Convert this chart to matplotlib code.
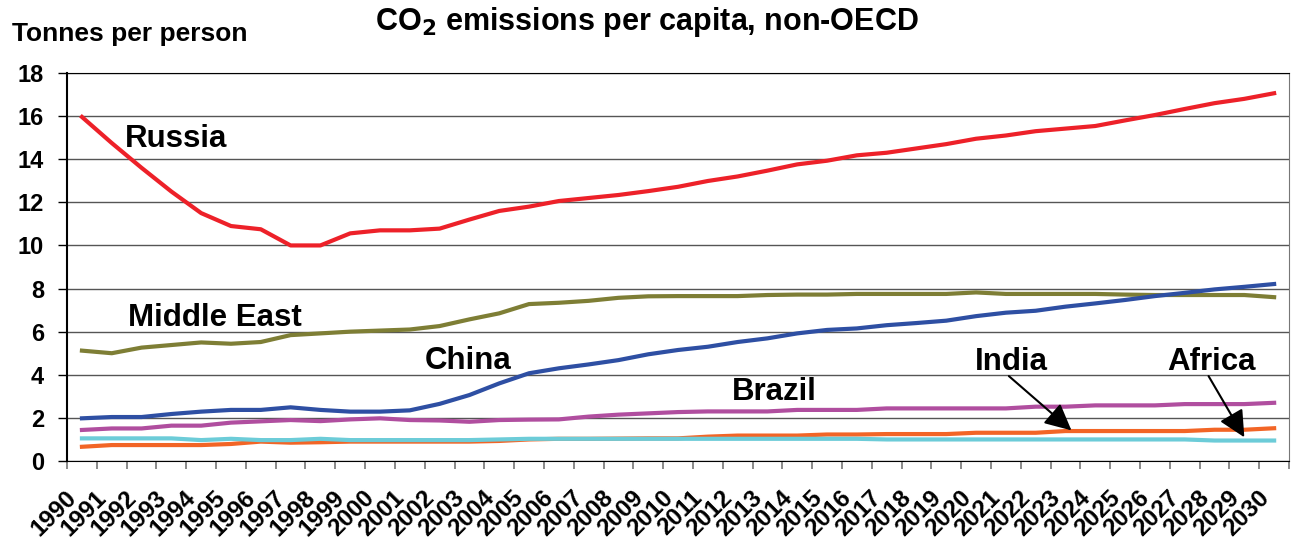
import numpy as np
import matplotlib
matplotlib.use("Agg")
import matplotlib.pyplot as plt
import matplotlib.transforms as mtransforms

plt.rcParams['font.family'] = ['Liberation Sans', 'DejaVu Sans']
plt.rcParams['font.weight'] = 'bold'

years = [str(y) for y in range(1990, 2031)]

russia = [15.96, 14.75, 13.6, 12.5, 11.5, 10.9, 10.75, 10.0, 10.0, 10.56,
          10.7, 10.7, 10.78, 11.2, 11.6, 11.8, 12.06, 12.2, 12.34, 12.52,
          12.72, 12.99, 13.2, 13.47, 13.76, 13.93, 14.18, 14.3, 14.5, 14.7,
          14.95, 15.1, 15.3, 15.42, 15.54, 15.8, 16.05, 16.33, 16.6, 16.8, 17.06]
middle_east = [5.12, 5.0, 5.26, 5.38, 5.5, 5.44, 5.52, 5.84, 5.92, 6.0,
               6.05, 6.1, 6.26, 6.57, 6.85, 7.28, 7.34, 7.43, 7.57, 7.64,
               7.65, 7.65, 7.65, 7.7, 7.72, 7.72, 7.75, 7.75, 7.75, 7.75,
               7.82, 7.75, 7.75, 7.75, 7.75, 7.72, 7.7, 7.7, 7.7, 7.7, 7.6]
china = [1.98, 2.04, 2.04, 2.18, 2.29, 2.37, 2.37, 2.49, 2.37, 2.29,
         2.29, 2.35, 2.65, 3.06, 3.6, 4.07, 4.3, 4.48, 4.68, 4.95,
         5.15, 5.3, 5.52, 5.69, 5.92, 6.08, 6.15, 6.3, 6.4, 6.51,
         6.72, 6.88, 6.97, 7.16, 7.31, 7.47, 7.65, 7.8, 7.96, 8.08, 8.21]
brazil = [1.44, 1.51, 1.51, 1.64, 1.64, 1.78, 1.84, 1.9, 1.85, 1.93,
          1.98, 1.9, 1.88, 1.82, 1.9, 1.92, 1.93, 2.06, 2.15, 2.21,
          2.27, 2.3, 2.3, 2.3, 2.37, 2.37, 2.37, 2.44, 2.44, 2.44,
          2.44, 2.44, 2.52, 2.52, 2.58, 2.58, 2.58, 2.64, 2.64, 2.64, 2.7]
india = [0.66, 0.74, 0.74, 0.74, 0.74, 0.79, 0.9, 0.85, 0.87, 0.9,
         0.9, 0.9, 0.9, 0.9, 0.93, 1.0, 1.03, 1.03, 1.04, 1.05,
         1.05, 1.13, 1.18, 1.18, 1.18, 1.23, 1.23, 1.25, 1.25, 1.25,
         1.31, 1.31, 1.31, 1.39, 1.39, 1.39, 1.39, 1.39, 1.45, 1.45, 1.52]
africa = [1.05, 1.05, 1.05, 1.05, 0.97, 1.03, 0.97, 0.97, 1.03, 0.97,
          0.97, 0.97, 0.97, 0.97, 1.0, 1.03, 1.03, 1.03, 1.03, 1.03,
          1.03, 1.03, 1.03, 1.03, 1.03, 1.03, 1.03, 1.0, 1.0, 1.0,
          1.0, 1.0, 1.0, 1.0, 1.0, 1.0, 1.0, 1.0, 0.95, 0.95, 0.95]

x = np.arange(len(years))

fig = plt.figure(figsize=(12.92, 5.39), dpi=100)
ax = fig.add_axes([0.0519, 0.1447, 0.9458, 0.7199])

ax.plot(x, russia, color='#ED2129', lw=3)
ax.plot(x, middle_east, color='#7E7E35', lw=3)
ax.plot(x, china, color='#2E4FA3', lw=3)
ax.plot(x, brazil, color='#B04E9F', lw=3)
ax.plot(x, india, color='#F26526', lw=3)
ax.plot(x, africa, color='#6CCCD8', lw=3)

ax.set_xlim(-0.5, len(years) - 0.5)
ax.set_ylim(0, 18)
ax.set_yticks(range(0, 19, 2))
ax.yaxis.grid(True, color='#555555', lw=1)
ax.set_axisbelow(True)
ax.tick_params(axis='y', labelsize=17, length=6.5, width=1, direction='out', pad=10)

ax.set_xticks(x)
ax.set_xticklabels(years, rotation=45, ha='right', va='top', rotation_mode='anchor', fontsize=17.5)
ax.set_xticks(np.arange(-0.5, len(years), 1), minor=True)
ax.tick_params(axis='x', which='major', length=0, pad=18)
ax.tick_params(axis='x', which='minor', length=6, width=1.2, color='#777777')
shift = mtransforms.ScaledTranslation(-17 / 100, 0, fig.dpi_scale_trans)
for lab in ax.get_xticklabels():
    lab.set_transform(lab.get_transform() + shift)

ax.spines['left'].set_color('black')
ax.spines['left'].set_linewidth(1.5)
ax.spines['bottom'].set_color('black')
ax.spines['top'].set_color('black')
ax.spines['right'].set_color('#777777')

fs = 22.5
ax.text(1.44, 14.95, 'Russia', fontsize=fs, va='center')
ax.text(1.54, 6.63, 'Middle East', fontsize=fs, va='center')
ax.text(11.5, 4.64, 'China', fontsize=fs, va='center')
ax.text(21.8, 3.2, 'Brazil', fontsize=fs, va='center')
ax.text(29.97, 4.57, 'India', fontsize=fs, va='center')
ax.text(36.4, 4.57, 'Africa', fontsize=fs, va='center')
arrow = dict(arrowstyle='-|>,head_length=0.65,head_width=0.32', color='black', lw=1.5,
             mutation_scale=25, shrinkA=0, shrinkB=0)
ax.annotate('', xy=(33.2, 1.42), xytext=(31.1, 3.94), arrowprops=arrow)
ax.annotate('', xy=(39.0, 1.1), xytext=(37.8, 3.94), arrowprops=arrow)

fig.text(0.501, 0.96, 'CO$_\\mathbf{2}$ emissions per capita, non-OECD', fontsize=22,
         ha='center', va='center')
fig.text(0.009, 0.937, 'Tonnes per person', fontsize=19, ha='left', va='center')

fig.savefig('out.png', dpi=100)
